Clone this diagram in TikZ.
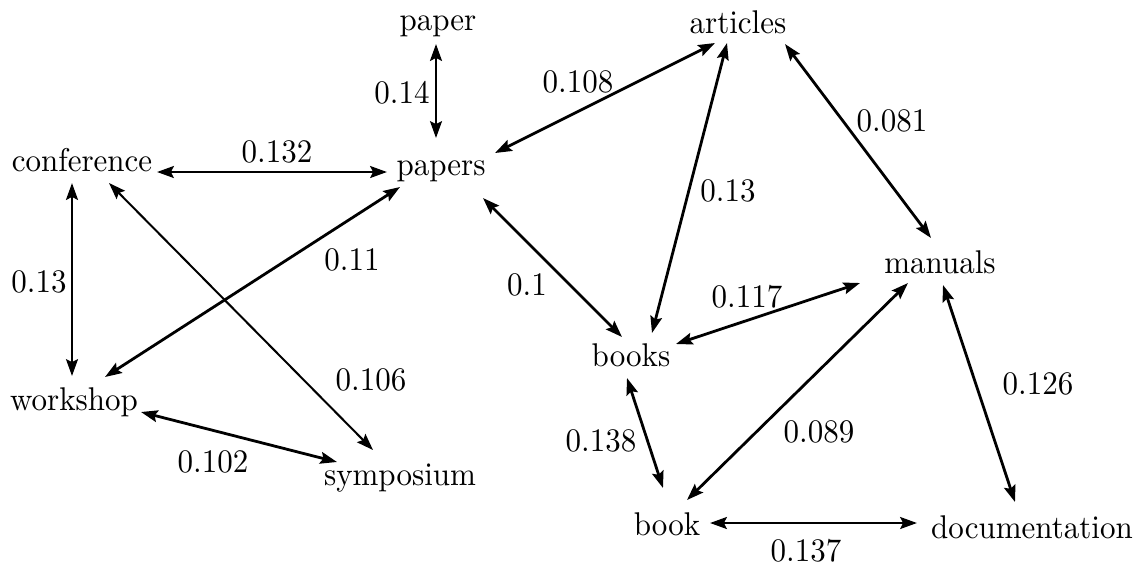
\documentclass[tikz,border=0pt]{standalone}
\usepackage{graphicx}
\usetikzlibrary{arrows.meta,calc}
\newcommand\vs[1]{\scalebox{1}[1.06]{#1}}
\begin{document}
\begin{tikzpicture}[x=0.3226pt,y=-0.3226pt,
  word/.style={anchor=base,inner sep=0pt},
  wt/.style={inner sep=0pt},
  tipx/.tip={Stealth[length=5.4pt,width=3.8pt,inset=0.9pt]},
  edge/.style={line width=0.9pt,tipx-tipx},
  thin edge/.style={edge,line width=0.65pt}]
\useasboundingbox (0,0) rectangle (1137,564);
% words
\node[word] (paper) at (438,30) {\vs{paper}};
\node[word] (articles) at (738,33) {\vs{articles}};
\node[word] (conference) at (82,171) {\vs{conference}};
\node[word] (papers) at (441,175) {\vs{papers}};
\node[word] (manuals) at (940,273) {\vs{manuals}};
\node[word] (books) at (631,366) {\vs{books}};
\node[word] (workshop) at (74,410) {\vs{workshop}};
\node[word] (symposium) at (400,485) {\vs{symposium}};
\node[word] (book) at (667,535) {\vs{book}};
\node[word] (documentation) at (1032,538) {\vs{documentation}};
% connectors
\draw[edge] ($(paper.base)+(-2,14)$) -- ($(papers.base)+(-5,-37)$);
\draw[edge] ($(conference.base)+(75,1)$) -- ($(papers.base)+(-54,-3)$);
\draw[edge] ($(articles.base)+(-23,10)$) -- ($(papers.base)+(54,-22)$);
\draw[edge] ($(articles.base)+(-11,10)$) -- ($(books.base)+(21,-33)$);
\draw[edge] ($(articles.base)+(47,11)$) -- ($(manuals.base)+(-9,-35)$);
\draw[edge] ($(papers.base)+(42,23)$) -- ($(books.base)+(-9,-29)$);
\draw[thin edge] ($(conference.base)+(27,12)$) -- ($(symposium.base)+(-27,-35)$);
\draw[edge] ($(papers.base)+(-41,12)$) -- ($(workshop.base)+(31,-33)$);
\draw[edge] ($(conference.base)+(-10,12)$) -- ($(workshop.base)+(-2,-34)$);
\draw[edge] ($(workshop.base)+(67,2)$) -- ($(symposium.base)+(-63,-23)$);
\draw[edge] ($(books.base)+(45,-22)$) -- ($(manuals.base)+(-80,10)$);
\draw[edge] ($(manuals.base)+(-32,10)$) -- ($(book.base)+(20,-35)$);
\draw[edge] ($(manuals.base)+(3,12)$) -- ($(documentation.base)+(-17,-36)$);
\draw[edge] ($(books.base)+(-4,12)$) -- ($(book.base)+(-4,-47)$);
\draw[edge] ($(book.base)+(43,-12)$) -- ($(documentation.base)+(-115,-15)$);
% weights
\node[wt] (w1) at (402,93) {\vs{0.14}};
\node[wt] (w2) at (277,151.5) {\vs{0.132}};
\node[wt] (w3) at (578,82) {\vs{0.108}};
\node[wt] (w4) at (892,121) {\vs{0.081}};
\node[wt] (w5) at (728,191) {\vs{0.13}};
\node[wt] (w6) at (352,260) {\vs{0.11}};
\node[wt] (w7) at (527,285) {\vs{0.1}};
\node[wt] (w8) at (39,282) {\vs{0.13}};
\node[wt] (w9) at (371,380) {\vs{0.106}};
\node[wt] (w10) at (213,462) {\vs{0.102}};
\node[wt] (w11) at (747,297) {\vs{0.117}};
\node[wt] (w12) at (819,432) {\vs{0.089}};
\node[wt] (w13) at (1038,384) {\vs{0.126}};
\node[wt] (w14) at (601,441) {\vs{0.138}};
\node[wt] (w15) at (806,551) {\vs{0.137}};
\end{tikzpicture}
\end{document}
